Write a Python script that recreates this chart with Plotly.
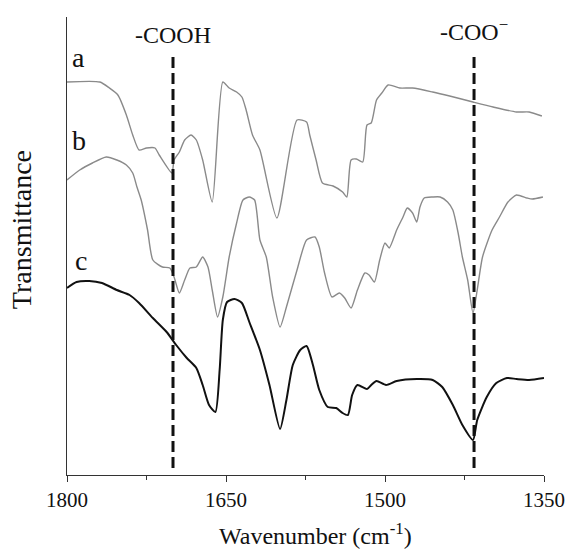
import plotly.graph_objects as go

# Curve a (top, gray)
wn_a = [1800, 1769, 1760, 1752, 1744, 1738, 1732, 1725, 1717, 1713, 1701, 1699, 1694, 1689, 1683,
        1678, 1672, 1663, 1653, 1647, 1640, 1635, 1631, 1625, 1618, 1602, 1583, 1574, 1571, 1565,
        1559, 1549, 1540, 1536, 1532, 1527, 1521, 1517, 1513, 1508, 1503, 1497, 1486, 1474, 1455,
        1439, 1417, 1398, 1376, 1364, 1352]
t_a = [393, 393, 387, 380, 360, 340, 325, 327, 327, 320, 302, 315, 323, 335, 340,
       335, 315, 273, 393, 387, 383, 378, 365, 340, 325, 257, 355, 353, 340, 315,
       292, 289, 283, 278, 315, 316, 313, 350, 352, 375, 382, 390, 387, 387, 383,
       379, 373, 368, 363, 363, 359]

# Curve b (middle, gray)
wn_b = [1800, 1788, 1776, 1763, 1753, 1744, 1738, 1734, 1730, 1724, 1719, 1710, 1703, 1699, 1694,
        1689, 1684, 1678, 1672, 1667, 1663, 1658, 1653, 1647, 1640, 1634, 1628, 1623, 1618, 1612,
        1606, 1599, 1593, 1583, 1574, 1566, 1562, 1557, 1550, 1543, 1538, 1532, 1526, 1519, 1515,
        1510, 1505, 1500, 1496, 1489, 1483, 1479, 1474, 1470, 1467, 1463, 1455, 1448, 1441, 1436,
        1431, 1427, 1422, 1417, 1413, 1408, 1399, 1392, 1384, 1376, 1366, 1361, 1351]
t_b = [295, 305, 312, 318, 315, 310, 302, 288, 275, 245, 215, 208, 207, 198, 182,
       195, 207, 208, 218, 208, 185, 158, 178, 218, 252, 275, 278, 275, 235, 218,
       178, 148, 168, 205, 235, 238, 228, 202, 178, 182, 177, 167, 185, 202, 200,
       193, 215, 232, 227, 245, 258, 267, 262, 253, 268, 277, 278, 278, 273, 265,
       242, 218, 195, 162, 185, 218, 245, 258, 273, 280, 277, 276, 278]

# Curve c (bottom, black)
wn_c = [1800, 1791, 1779, 1767, 1753, 1741, 1732, 1719, 1706, 1697, 1687, 1678, 1672, 1666, 1660,
        1656, 1653, 1649, 1642, 1635, 1628, 1618, 1609, 1599, 1593, 1587, 1580, 1574, 1568, 1562,
        1554, 1546, 1540, 1535, 1531, 1526, 1517, 1513, 1508, 1499, 1489, 1470, 1455, 1446, 1436,
        1427, 1417, 1413, 1404, 1395, 1385, 1376, 1364, 1350]
t_c = [187, 193, 194, 192, 185, 180, 172, 157, 143, 130, 117, 107, 90, 70, 63,
       105, 155, 173, 176, 172, 153, 125, 90, 46, 75, 110, 125, 129, 110, 85,
       68, 67, 62, 60, 80, 90, 86, 90, 94, 90, 94, 96, 95, 88, 70,
       50, 35, 55, 78, 92, 97, 96, 95, 97]

curve_labels = ["a", "b", "c"]
label_wn = [1789, 1789, 1787]
label_t = [418, 335, 215]

marker_names = ["-COOH", "-COO<sup>\u2212</sup>"]
marker_wn = [1700, 1416]
marker_label_t = [440, 445]
dash_range = [7, 423]

x_ticks = [1800, 1650, 1500, 1350]

FONT = "Liberation Serif, Times New Roman, serif"

fig = go.Figure()
fig.add_trace(go.Scatter(x=wn_a, y=t_a, mode="lines", line=dict(color="#8a8a8a", width=1.4, shape="spline", smoothing=0.6), showlegend=False))
fig.add_trace(go.Scatter(x=wn_b, y=t_b, mode="lines", line=dict(color="#8a8a8a", width=1.4, shape="spline", smoothing=0.6), showlegend=False))
fig.add_trace(go.Scatter(x=wn_c, y=t_c, mode="lines", line=dict(color="#111111", width=2, shape="spline", smoothing=0.6), showlegend=False))

for w in marker_wn:
    fig.add_trace(go.Scatter(x=[w, w], y=dash_range, mode="lines",
                             line=dict(color="#111111", width=3, dash="11px,5px"), showlegend=False))

annotations = []
for lab, w, t in zip(curve_labels, label_wn, label_t):
    annotations.append(dict(x=w, y=t, xref="x", yref="y", text=lab, showarrow=False,
                            font=dict(family=FONT, size=28, color="#111"), xanchor="center", yanchor="middle"))
for lab, w, t in zip(marker_names, marker_wn, marker_label_t):
    annotations.append(dict(x=w, y=t, xref="x", yref="y", text=lab, showarrow=False,
                            font=dict(family=FONT, size=24, color="#111"), xanchor="center", yanchor="middle"))
annotations.append(dict(x=0.52, y=-0.128, xref="paper", yref="paper", text="Wavenumber (cm<sup>-1</sup>)",
                        showarrow=False, font=dict(family=FONT, size=24, color="#111"),
                        xanchor="center", yanchor="middle"))
annotations.append(dict(x=-0.094, y=0.535, xref="paper", yref="paper", text="Transmittance",
                        showarrow=False, textangle=-90, font=dict(family=FONT, size=28, color="#111"),
                        xanchor="center", yanchor="middle"))

fig.update_layout(
    width=567, height=549,
    margin=dict(l=67, r=23, t=17, b=74, autoexpand=False),
    paper_bgcolor="white", plot_bgcolor="white",
    annotations=annotations,
    xaxis=dict(range=[1800, 1350], tickvals=x_ticks, ticktext=[str(v) for v in x_ticks],
               automargin=False,
               ticks="outside", ticklen=6, tickcolor="#333", showline=True, linecolor="#333", linewidth=1,
               showgrid=False, zeroline=False,
               tickfont=dict(family=FONT, size=21, color="#111"),
               minor=dict(dtick=75, tick0=1350, ticks="outside", ticklen=4, tickcolor="#333")),
    yaxis=dict(range=[0, 458], showticklabels=False, ticks="", showline=True, linecolor="#333",
               automargin=False, linewidth=1, showgrid=False, zeroline=False),
)

fig.write_html("out.html", config={"displayModeBar": False},
               post_script="document.body.style.margin='0';document.body.style.padding='0';")
